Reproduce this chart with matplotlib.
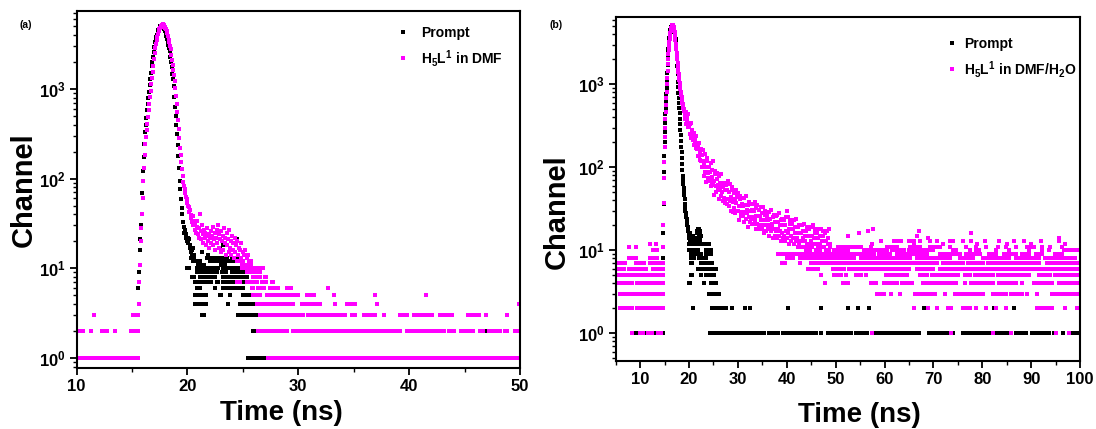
import numpy as np
import matplotlib.pyplot as plt
from matplotlib.lines import Line2D
from matplotlib.ticker import FixedLocator, MultipleLocator, LogLocator, NullFormatter

plt.rcParams['font.family'] = ['Liberation Sans', 'DejaVu Sans']
plt.rcParams['font.weight'] = 'bold'
plt.rcParams['mathtext.fontset'] = 'custom'
plt.rcParams['mathtext.rm'] = 'Liberation Sans:bold'
plt.rcParams['mathtext.it'] = 'Liberation Sans:bold'
plt.rcParams['mathtext.bf'] = 'Liberation Sans:bold'

DT = 0.06          # TCSPC channel width (ns)
DT_DECAY = 0.1     # spacing of the values (b)
MAGENTA = '#ff00ff'

# ---------------- panel (a) : prompt ----------------
A_PROMPT_T0 = 15.58
A_PROMPT_COUNTS = [
    6, 9, 16, 21, 30, 40, 69, 120, 174, 240, 331, 398, 479, 575, 676, 794, 933,
    1096, 1288, 1514, 1778, 1995, 2291, 2570, 2951, 3311, 3548, 3800, 3981, 4266,
    4520, 4677, 4840, 5012, 5070, 5130, 5120, 5010, 4900, 4680, 4420, 4170, 3890,
    3630, 3310, 3090, 2880, 2630, 2290, 1995, 1740, 1480, 1290, 1070, 810, 630,
    500, 400, 310, 234, 178, 132, 95, 76, 59, 47,
    40, 33, 29, 25, 27, 22, 24, 20, 22, 19, 21, 17, 18, 15, 16, 14, 17, 14]
A_PROMPT_EXTRA_T = [22.9, 23.05, 23.2, 24.4, 24.5, 21.3, 21.9]
A_PROMPT_EXTRA_C = [17, 16, 18, 18, 21, 15, 14]
A_PROMPT_LEVELS = {
    13: [(20.3, 20.6), (21.74, 22.04), (22.34, 23.54), (23.99, 24.74)],
    12: [(20.53, 21.14), (22.04, 23.84), (24.14, 24.74)],
    11: [(21.0, 21.5), (23.0, 23.4)],
    10: [(20.0, 20.15), (20.84, 22.79), (23.24, 23.69), (24.14, 24.89), (25.34, 25.95)],
    9: [(20.84, 22.64), (23.09, 23.54), (23.99, 24.89), (25.04, 26.25)],
    8: [(20.38, 20.53), (21.14, 22.49), (23.24, 24.14), (24.44, 25.34), (25.95, 26.25)],
    7: [(20.69, 21.14), (21.44, 22.19), (22.64, 22.79), (23.24, 23.54), (23.84, 25.04)],
    6: [(20.84, 21.14), (22.49, 22.49), (23.24, 25.04), (25.8, 25.95)],
    5: [(20.69, 21.74), (22.94, 23.09), (23.84, 23.84), (25.04, 25.8)],
    4: [(20.69, 21.74), (23.69, 23.69), (24.74, 26.25)],
    3: [(21.29, 21.44), (24.59, 24.89), (25.04, 26.25), (26.55, 26.85)],
    2: [(25.95, 27.4), (28.0, 28.0), (29.0, 29.0), (39.2, 39.2), (45.2, 45.2),
        (47.0, 47.0), (49.5, 49.5)],
    1: [(10.0, 15.5), (25.5, 25.95), (26.25, 27.15), (27.75, 28.35)],
}

# ---------------- panel (a) : H5L1 in DMF ----------------
A_DMF_T0 = 15.62
A_DMF_COUNTS = [
    4, 7, 11, 20, 28, 40, 60, 93, 132, 182, 240, 288, 347, 407, 490, 575, 676,
    813, 955, 1122, 1318, 1549, 1820, 2138, 2512, 2884, 3162, 3548, 3800, 4074,
    4365, 4620, 4786, 4955, 5070, 5190, 5250, 5190, 5130, 4955, 4786, 4620, 4420,
    4170, 3890, 3548, 3311, 3020, 2754, 2400, 2090, 1860, 1620, 1410, 1230, 1023,
    832, 676, 550, 447, 355, 282, 219, 182, 155, 129, 107, 91, 83, 76, 69, 63,
    59, 54, 50,
    48, 42, 45, 36, 39, 33, 38, 30, 34, 27, 31, 25, 29, 34, 24, 28, 22, 40, 26,
    21, 30, 24, 19, 27, 22, 25, 18, 23, 28, 20, 24, 17, 22, 26, 19, 23, 29, 18,
    21, 25, 16, 22, 27, 19, 30, 17, 24, 21, 15, 26, 20, 23, 16, 28, 19, 22, 14,
    25, 18, 21, 15, 27, 17, 20, 14, 23, 16, 19, 13, 22, 15, 18, 12, 20, 14, 17,
    12, 16, 13, 19, 11, 15, 12, 14, 11, 16, 11, 13, 11, 14, 11, 12, 11, 12, 11]
A_DMF_LEVELS = {
    10: [(24.9, 25.5), (25.65, 26.25), (26.55, 26.85)],
    9: [(25.34, 26.25), (26.4, 26.6)],
    8: [(25.95, 26.0), (26.4, 26.55), (27.0, 27.1)],
    7: [(24.44, 24.74), (25.34, 26.25), (26.7, 27.15), (27.6, 27.75)],
    6: [(25.8, 25.95), (26.4, 26.85), (27.45, 28.2), (28.95, 29.4), (32.7, 32.7)],
    5: [(25.95, 26.55), (27.15, 28.2), (28.5, 29.55), (29.85, 29.95), (30.75, 31.4),
        (33.2, 33.2), (36.9, 36.9), (41.5, 41.5)],
    4: [(15.6, 15.6), (26.25, 29.55), (30.3, 31.9), (33.3, 33.3), (34.4, 35.1),
        (37.1, 37.1), (49.9, 49.9)],
    3: [(11.6, 11.6), (15.1, 15.15), (15.5, 15.55), (26.55, 30.45), (30.9, 34.2),
        (34.8, 35.1), (35.9, 36.9), (37.75, 37.75), (39.2, 39.8), (40.4, 42.0),
        (42.8, 43.8), (45.3, 46.3), (46.9, 46.9), (48.8, 48.8)],
    2: [(10.0, 10.6), (11.3, 11.3), (12.3, 12.7), (13.5, 13.5), (14.9, 15.55),
        (26.4, 28.95), (29.55, 39.17), (39.8, 43.1), (43.6, 44.0), (44.7, 45.8),
        (46.4, 46.7), (47.2, 48.2), (48.6, 48.8), (49.5, 50.0)],
    1: [(10.0, 10.9), (11.2, 11.6), (11.95, 15.55), (27.3, 50.0)],
}

# ---------------- panel (b) : prompt ----------------
B_PROMPT_T0 = 14.58
B_PROMPT_COUNTS = [
    3, 5, 8, 16, 36, 89, 135, 204, 263, 339, 437, 525, 631, 759, 912, 1122, 1380,
    1698, 2089, 2399, 2692, 3020, 3311, 3630, 3890, 4074, 4315, 4520, 4677, 4842,
    4955, 5070, 5130, 5130, 5070, 5010, 4900, 4790, 4620, 4470, 4315, 4170, 4070,
    3980, 3890, 3550, 3160, 2750, 2400, 2090, 1660, 1320, 1070, 933, 794, 692,
    589, 513, 447, 380, 331, 282, 245, 209, 178, 151, 129, 110, 93, 79, 71, 63,
    56, 51, 46, 41, 36, 32, 30, 28, 26, 25, 24, 22, 21, 20, 19,
    18, 17, 15, 16, 14, 15, 13, 16, 14, 12, 13]
B_PROMPT_EXTRA_T = [21.5, 21.55, 21.7, 21.85, 22.0, 22.15, 22.3, 22.35, 22.3,
                    22.15, 22.0, 21.8, 21.6, 21.7, 22.1, 20.6, 20.8, 21.0, 21.2]
B_PROMPT_EXTRA_C = [14, 16, 17, 18, 18, 17, 16, 15, 14, 13, 13, 13, 14, 16, 15,
                    15, 14, 13, 12]
B_PROMPT_LEVELS = {
    15: [(20.06, 20.74)],
    13: [(20.4, 22.09)],
    12: [(19.9, 21.07), (21.75, 24.11)],
    10: [(20.06, 21.75), (23.43, 24.45)],
    9: [(20.4, 22.43), (23.43, 24.45)],
    8: [(20.4, 21.07), (22.09, 23.43)],
    7: [(20.4, 20.5), (22.43, 24.78)],
    6: [(21.75, 25.46)],
    5: [(20.4, 20.5), (22.43, 22.5), (23.43, 25.12)],
    4: [(20.06, 20.1), (23.1, 23.15), (24.45, 25.46)],
    3: [(24.11, 26.13)],
    2: [(20.74, 20.74), (24.78, 27.48), (28.83, 28.83), (31.53, 31.53), (32.54, 32.54),
        (40.3, 40.3), (47.06, 47.06), (52.46, 52.46), (54.5, 54.5), (56.85, 56.85),
        (67.98, 67.98), (73.3, 73.3), (80.8, 80.8), (82.4, 82.4), (86.5, 86.5)],
    1: [(8.9, 9.9), (10.6, 11.5), (12.3, 14.6), (24.3, 35.4), (36.4, 38.2),
        (39.3, 44.4), (45.0, 46.0), (47.06, 47.06), (48.4, 51.8), (52.1, 53.1),
        (54.1, 56.5), (57.5, 60.6), (60.9, 61.6), (62.2, 67.0), (69.0, 73.0),
        (73.4, 74.0), (76.0, 81.5), (82.8, 85.5), (86.9, 88.9), (90.2, 93.6),
        (94.6, 94.6), (96.6, 96.6), (98.3, 99.4)],
}

# ---------------- panel (b) : H5L1 in DMF/H2O ----------------
B_H2O_T0 = 14.70
B_H2O_COUNTS = [
    11, 20, 37, 74, 115, 178, 229, 295, 380, 468, 562, 676, 813, 1000, 1202, 1445,
    1738, 2042, 2291, 2570, 2884, 3236, 3548, 3758, 3981, 4169, 4365, 4571, 4732,
    4898, 5012, 5129, 5188, 5188, 5129, 5012, 4898, 4732, 4571, 4315, 3981, 3673,
    3388, 3090, 2851, 2630, 2399, 2188, 1995, 1820, 1660, 1531, 1413, 1318, 1216,
    1122, 1047, 977, 912, 871, 813, 767, 733, 700, 661, 631, 603, 575, 550, 525,
    501, 479]
B_H2O_DECAY_T0 = 19.0
B_H2O_DECAY = [
    497, 381, 428, 331, 470, 362, 392, 310, 434, 313,
    327, 254, 337, 344, 255, 228, 267, 285, 216, 241,
    185, 262, 200, 216, 169, 236, 168, 175, 137, 182,
    194, 136, 121, 150, 167, 120, 140, 102, 160, 118,
    112, 78, 143, 89, 100, 67, 119, 131, 86, 74,
    87, 102, 68, 88, 59, 112, 77, 92, 64, 118,
    61, 69, 46, 82, 90, 59, 51, 72, 85, 57,
    62, 41, 78, 54, 65, 45, 83, 51, 58, 39,
    60, 65, 43, 37, 53, 62, 41, 54, 36, 68,
    41, 50, 34, 63, 39, 44, 30, 53, 58, 38,
    29, 41, 49, 32, 42, 28, 53, 37, 44, 30,
    49, 30, 34, 23, 41, 45, 29, 26, 36, 43,
    26, 34, 22, 43, 29, 35, 24, 45, 28, 31,
    19, 35, 38, 25, 22, 30, 36, 24, 31, 21,
    36, 25, 30, 21, 38, 23, 26, 18, 32, 35,
    21, 18, 26, 31, 20, 26, 18, 33, 23, 28,
    18, 33, 20, 23, 16, 27, 30, 20, 17, 24,
    27, 18, 23, 15, 29, 20, 24, 17, 31, 19,
    21, 14, 25, 27, 18, 15, 22, 26, 17, 22,
    14, 27, 18, 22, 15, 28, 17, 20, 13, 23,
    24, 16, 14, 20, 23, 15, 20, 13, 25, 17,
    30, 14, 25, 16, 18, 12, 21, 23, 15, 13,
    18, 21, 14, 18, 12, 23, 16, 19, 13, 24,
    14, 16, 11, 19, 20, 13, 12, 16, 20, 13,
    16, 11, 20, 14, 17, 11, 21, 13, 15, 10,
    17, 19, 12, 11, 15, 18, 12, 15, 10, 19,
    13, 15, 11, 20, 12, 14, 9, 16, 18, 12,
    10, 14, 16, 11, 14, 9, 18, 12, 15, 10,
    18, 11, 13, 9, 15, 17, 11, 9, 13, 16,
    10, 13, 9, 17, 12, 14, 10, 18, 11, 12]
B_H2O_LEVELS = {
    1: [(8.3, 8.45), (9.94, 10.6), (11.6, 12.3), (13.65, 14.3), (57.5, 57.5),
        (73.7, 73.7), (82.2, 82.2), (85.9, 85.9), (95.0, 95.0), (97.7, 97.8)],
    2: [(5.88, 8.37), (9.43, 12.63), (13.34, 14.7), (65.95, 65.95), (68.99, 68.99),
        (70.67, 70.67), (73.04, 73.71), (76.07, 76.4), (77.1, 77.42), (78.77, 78.77),
        (80.8, 80.8), (82.82, 82.82), (84.84, 84.84), (91.25, 91.6), (92.3, 92.6),
        (93.3, 94.3), (96.99, 96.99), (99.35, 99.4)],
    3: [(5.88, 7.3), (7.7, 9.8), (10.2, 14.7), (58.53, 59.2), (59.5, 59.88),
        (61.23, 61.23), (63.25, 63.25), (66.29, 67.3), (67.9, 68.6), (69.3, 70.34),
        (72.36, 72.36), (74.38, 75.5), (76.1, 77.9), (78.4, 80.12), (82.14, 83.2),
        (83.8, 84.84), (85.86, 87.0), (87.5, 88.22), (89.23, 89.23), (91.25, 91.25),
        (94.29, 95.5), (96.0, 97.6), (98.1, 99.35)],
    4: [(5.53, 8.37), (9.43, 11.92), (12.63, 14.7), (47.73, 47.73), (51.44, 52.45),
        (57.18, 58.19), (59.88, 61.0), (61.6, 62.58), (63.59, 65.61), (67.97, 69.5),
        (70.1, 72.0), (72.6, 74.05), (74.72, 74.72), (76.41, 76.41), (77.76, 79.4),
        (80.0, 82.14), (83.49, 85.0), (85.6, 86.87), (88.22, 88.22), (90.58, 90.58),
        (91.25, 92.5), (93.1, 94.29), (95.64, 97.2), (97.8, 99.35)],
    5: [(5.53, 14.7), (47.06, 47.06), (49.76, 51.11), (52.12, 52.12), (54.14, 55.15),
        (56.17, 56.17), (60.22, 62.0), (62.6, 64.6), (67.3, 68.65), (69.66, 72.0),
        (72.5, 75.06), (76.41, 77.42), (78.43, 80.5), (81.0, 82.14), (83.16, 86.19),
        (86.87, 89.57), (91.59, 93.95), (94.97, 97.0), (97.5, 99.35)],
    6: [(5.53, 6.59), (7.66, 11.21), (12.63, 14.7), (44.36, 46.38), (49.42, 51.78),
        (52.79, 55.5), (56.0, 58.53), (59.2, 61.56), (62.24, 64.94), (66.63, 70.0),
        (71.35, 74.5), (75.0, 78.0), (78.6, 81.47), (82.14, 86.0), (86.5, 90.0),
        (90.6, 94.0), (94.5, 97.66), (98.34, 99.35)],
    7: [(5.53, 6.95), (9.08, 10.85), (11.92, 14.7), (38.96, 39.64), (42.67, 42.67),
        (45.03, 50.09), (50.43, 55.0), (55.5, 60.55), (61.23, 65.5), (66.0, 70.67),
        (72.02, 76.07), (77.08, 80.12), (81.13, 84.84), (85.52, 88.5), (89.0, 91.59),
        (93.28, 96.0), (96.5, 99.35)],
    8: [(7.66, 9.08), (11.92, 13.34), (39.97, 41.32), (42.67, 44.7), (45.03, 49.08),
        (49.76, 53.8), (55.15, 57.18), (57.85, 61.5), (62.0, 65.28), (66.63, 70.67),
        (71.35, 73.37), (75.4, 78.1), (80.12, 85.52), (86.87, 91.59), (92.94, 99.01)],
    9: [(38.29, 42.95), (43.69, 51.78), (52.12, 57.85), (58.87, 61.23), (62.58, 65.95),
        (66.63, 68.65), (71.35, 75.4), (76.75, 79.45), (81.47, 82.82), (84.51, 86.87),
        (88.22, 89.57), (90.92, 92.27), (94.97, 96.32)],
    10: [(12.63, 13.34), (49.76, 52.45), (55.83, 57.85), (58.53, 60.55), (61.56, 63.93),
         (64.94, 67.3), (67.97, 70.0), (74.05, 74.72), (77.42, 77.42), (78.77, 79.45),
         (82.82, 82.82), (85.52, 85.52), (89.57, 89.57), (92.27, 92.27), (93.61, 93.61),
         (96.65, 99.35)],
    11: [(7.66, 7.66), (9.08, 9.08), (50.43, 55.15), (57.18, 57.18), (60.55, 62.58),
         (65.28, 67.3), (69.32, 71.35), (73.37, 73.37), (76.75, 76.75), (78.77, 78.77),
         (80.8, 80.8), (83.16, 83.16), (84.84, 84.84), (86.87, 86.87), (89.23, 90.58),
         (92.27, 92.27), (93.95, 93.95), (96.32, 96.32)],
    12: [(11.92, 11.92), (13.34, 13.34), (57.5, 57.5), (66.0, 66.0), (72.0, 72.0),
         (79.0, 79.0), (85.0, 85.0), (90.0, 90.0), (97.0, 97.0)],
    13: [(59.2, 59.2), (61.9, 63.25), (64.94, 65.95), (67.3, 67.3), (69.32, 69.32),
         (70.67, 70.67), (73.37, 74.05), (76.07, 76.07), (77.76, 77.76), (80.46, 80.46),
         (83.49, 83.49), (86.53, 86.53), (88.55, 88.55), (91.93, 91.93), (95.64, 95.64)],
    14: [(68.99, 68.99), (95.7, 95.7)],
    15: [(52.45, 52.45), (66.63, 66.63)],
    16: [(54.82, 54.82), (77.6, 77.6)],
    17: [(56.7, 56.7), (67.0, 67.0)],
    18: [(57.7, 57.7)],
}


def channels(t0, counts, step=DT):
    return t0 + step * np.arange(len(counts)), np.asarray(counts, float)


def levels(spans):
    t, c = [], []
    for level, pieces in spans.items():
        for t1, t2 in pieces:
            n = int(round((t2 - t1) / DT)) + 1
            t.extend(t1 + DT * np.arange(n))
            c.extend([level] * n)
    return np.array(t), np.array(c, float)


def series(*parts):
    return (np.concatenate([p[0] for p in parts]),
            np.concatenate([p[1] for p in parts]))


a_prompt = series(channels(A_PROMPT_T0, A_PROMPT_COUNTS),
                  (np.array(A_PROMPT_EXTRA_T), np.array(A_PROMPT_EXTRA_C, float)),
                  levels(A_PROMPT_LEVELS))
a_dmf = series(channels(A_DMF_T0, A_DMF_COUNTS), levels(A_DMF_LEVELS))
b_prompt = series(channels(B_PROMPT_T0, B_PROMPT_COUNTS),
                  (np.array(B_PROMPT_EXTRA_T), np.array(B_PROMPT_EXTRA_C, float)),
                  levels(B_PROMPT_LEVELS))
b_h2o = series(channels(B_H2O_T0, B_H2O_COUNTS),
               channels(B_H2O_DECAY_T0, B_H2O_DECAY, DT_DECAY),
               levels(B_H2O_LEVELS))

fig = plt.figure(figsize=(10.96, 4.29), dpi=100)
ax_a = fig.add_axes([0.0698, 0.1422, 0.4047, 0.8322])
ax_b = fig.add_axes([0.5618, 0.1585, 0.4236, 0.8019])

panels = [
    (ax_a, a_prompt, a_dmf, r'H$_5$L$^1$ in DMF', (10, 50), (0.774, 7380),
     MultipleLocator(10), (0.72, 0.958), 0.8, (-0.12, 0.499), (0.461, -0.126)),
    (ax_b, b_prompt, b_h2o, r'H$_5$L$^1$ in DMF/H$_2$O', (5, 100), (0.464, 6470),
     FixedLocator(np.arange(10, 101, 10)), (0.71, 0.942), 0.35, (-0.128, 0.433),
     (0.525, -0.157)),
]

for ax, prompt, sample, lab, xl, yl, xloc, leg_xy, pad, ylab_xy, xlab_xy in panels:
    ax.plot(prompt[0], prompt[1], ls='none', marker='s', ms=2.3, mew=0,
            color='black')
    ax.plot(sample[0], sample[1], ls='none', marker='s', ms=2.3, mew=0,
            color=MAGENTA)
    ax.set_yscale('log')
    ax.set_xlim(*xl)
    ax.set_ylim(*yl)
    ax.xaxis.set_major_locator(xloc)
    ax.xaxis.set_minor_locator(MultipleLocator(5))
    ax.yaxis.set_major_locator(FixedLocator([1, 10, 100, 1000]))
    ax.yaxis.set_major_formatter(plt.FixedFormatter(
        [r'$\mathbf{10^0}$', r'$\mathbf{10^1}$', r'$\mathbf{10^2}$', r'$\mathbf{10^3}$']))
    ax.yaxis.set_minor_locator(LogLocator(base=10, subs=np.arange(2, 10)))
    ax.yaxis.set_minor_formatter(NullFormatter())
    ax.tick_params(which='major', direction='out', length=5, width=1.3,
                   labelsize=12, pad=3)
    ax.tick_params(which='minor', direction='out', length=3, width=1.0)
    for lbl in ax.get_xticklabels():
        lbl.set_fontweight('bold')
    for s in ax.spines.values():
        s.set_linewidth(1.5)
    ax.set_xlabel('Time (ns)', fontsize=20, fontweight='bold', va='center')
    ax.set_ylabel('Channel', fontsize=21, fontweight='bold', va='center')
    ax.xaxis.set_label_coords(*xlab_xy)
    ax.yaxis.set_label_coords(*ylab_xy)
    handles = [Line2D([], [], ls='none', marker='s', ms=2.6, mew=0, color='black'),
               Line2D([], [], ls='none', marker='s', ms=2.6, mew=0, color=MAGENTA)]
    ax.legend(handles, ['Prompt', lab], loc='upper left', bbox_to_anchor=leg_xy,
              frameon=False, borderpad=0, borderaxespad=0, handlelength=1.0,
              handletextpad=pad, labelspacing=0.55,
              prop={'size': 10, 'weight': 'bold'})

fig.text(20 / 1096, 1 - 25 / 429, '(a)', fontsize=7.5, fontweight='bold',
         va='center')
fig.text(549 / 1096, 1 - 25 / 429, '(b)', fontsize=7.5, fontweight='bold',
         va='center')

fig.savefig('out.png', dpi=100)
